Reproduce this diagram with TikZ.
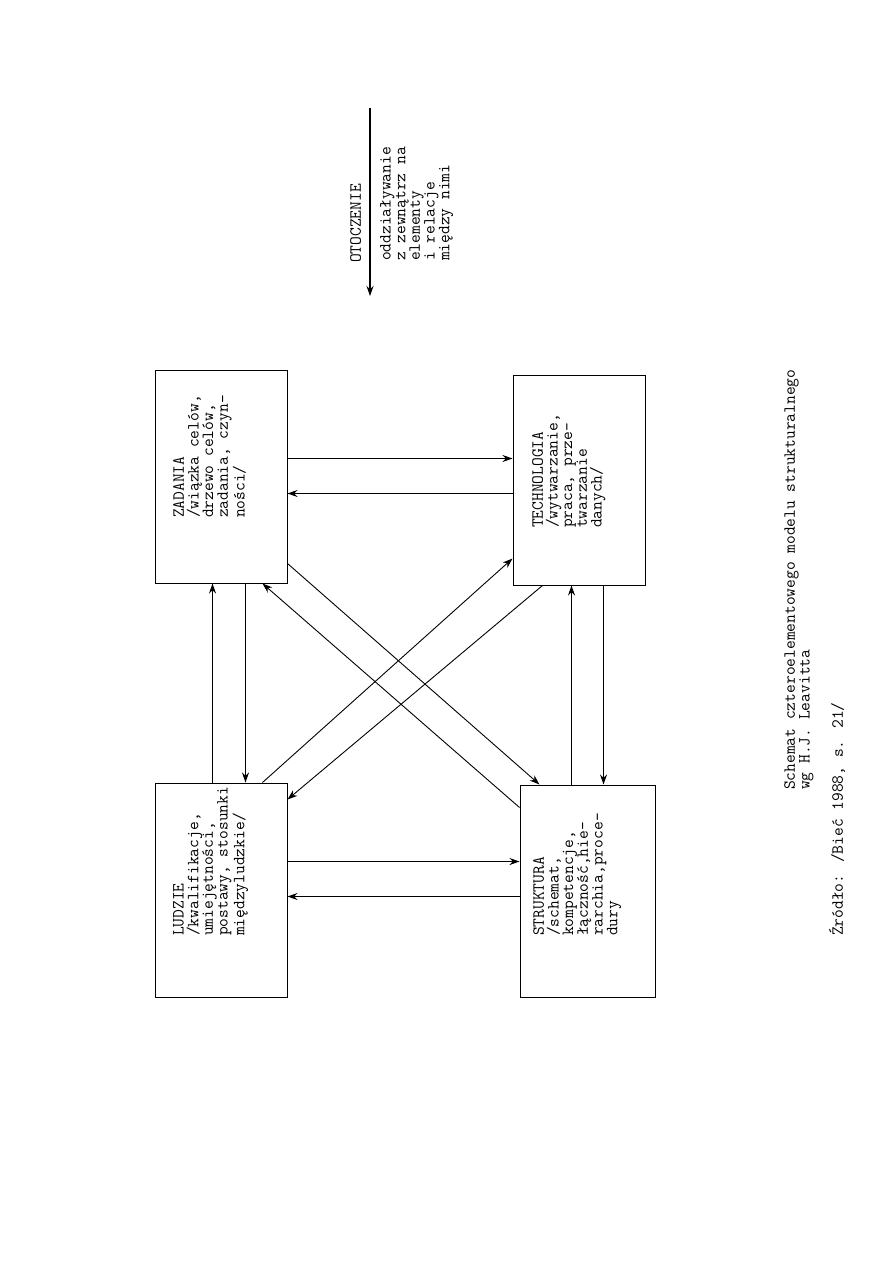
\documentclass[tikz,border=0pt]{standalone}
\usepackage{fontspec}
\usetikzlibrary{arrows.meta,calc}
\begin{document}
\begin{tikzpicture}[x=1pt,y=-1pt,
  box/.style={draw,line width=1pt,inner sep=0pt,minimum width=#1},
  txt/.style={rotate=90,anchor=north west,align=left,inner sep=0pt,font=\ttfamily\fontsize{17}{14.7}\selectfont},
  arr/.style={-{Stealth[length=10pt,width=7pt]},line width=0.9pt}]
\useasboundingbox[fill=white] (0,0) rectangle (893,1263);
% boxes
\node[box=132pt,minimum height=213pt] (Z) at (221,476.5) {};
\node[box=132pt,minimum height=210pt] (T) at (579,480) {};
\node[box=132pt,minimum height=214pt] (L) at (221,890) {};
\node[box=135pt,minimum height=212pt] (S) at (587.5,891) {};
% texts
\node[txt] (tZ) at (173,518) {ZADANIA\\/wiązka celów,\\drzewo celów,\\zadania, czyn-\\ności/};
\node[txt] (tT) at (532,528) {TECHNOLOGIA\\/wytwarzanie,\\praca, prze-\\twarzanie\\danych/};
\node[txt] (tL) at (173,936) {LUDZIE\\/kwalifikacje,\\umiejętności,\\postawy, stosunki\\międzyludzkie/};
\node[txt] (tS) at (533,936) {STRUKTURA\\/schemat,\\kompetencje,\\łączność,hie-\\rarchia,proce-\\dury};
% horizontal connectors
\draw[arr] ([yshift=-89pt]Z.north east) -- ([yshift=-84pt]T.north west);
\draw[arr] ([yshift=-119pt]T.north west) -- ([yshift=-124pt]Z.north east);
\draw[arr] ([yshift=-79pt]L.north east) -- ([yshift=-77pt]S.north west);
\draw[arr] ([yshift=-112pt]S.north west) -- ([yshift=-114pt]L.north east);
% vertical connectors
\draw[arr] ([xshift=58pt]L.north west) -- ([xshift=58pt]Z.south west);
\draw[arr] ([xshift=91pt]Z.south west) -- ([xshift=91pt]L.north west);
\draw[arr] ([xshift=52pt]S.north west) -- ([xshift=59pt]T.south west);
\draw[arr] ([xshift=91pt]T.south west) -- ([xshift=84pt]S.north west);
% diagonals
\draw[arr] ([yshift=20pt]Z.south east) -- ([xshift=20pt]S.north west);
\draw[arr] ([yshift=-23pt]S.north west) -- ([xshift=-25pt]Z.south east);
\draw[arr] ([xshift=-25pt]L.north east) -- ([yshift=27pt]T.south west);
\draw[arr] ([xshift=30pt]T.south west) -- ([yshift=-17pt]L.north east);
% environment
\coordinate (o1) at (370,108);
\coordinate (o2) at (370,296);
\draw[arr,line width=1.3pt] (o1) -- (o2);
\node[txt] (tO) at (350,263) {OTOCZENIE};
\node[txt] (tE) at (380,261) {oddziaływanie\\z zewnątrz na\\elementy\\i relacje\\między nimi};
% caption
\node[txt] (cap) at (784,790) {Schemat czteroelementowego modelu strukturalnego\\wg H.J. Leavitta};
\node[txt] (src) at (829,936) {Źródło: /Bieć 1988, s. 21/};
\end{tikzpicture}
\end{document}
